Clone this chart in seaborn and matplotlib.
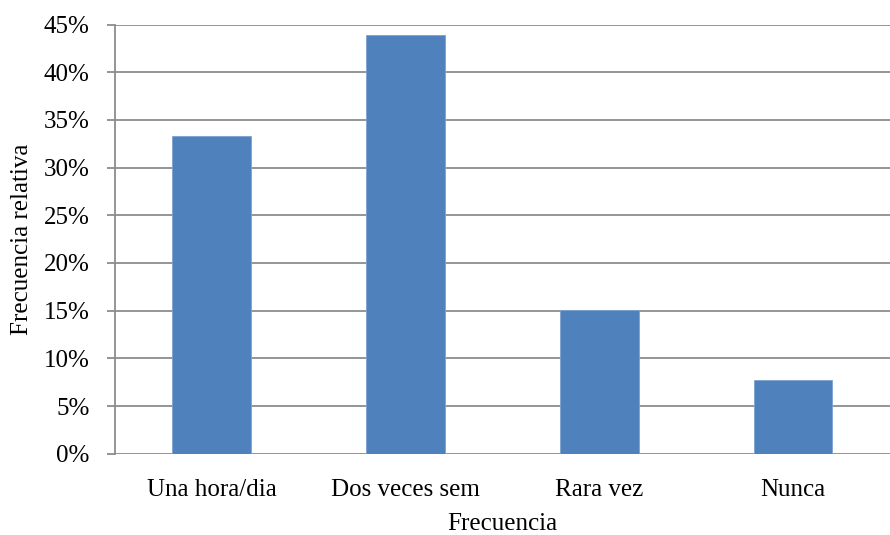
import matplotlib
matplotlib.use("Agg")
import matplotlib.pyplot as plt
import seaborn as sns
import pandas as pd
from matplotlib.ticker import PercentFormatter

categories = ["Una hora/dia", "Dos veces sem", "Rara vez", "Nunca"]
values = [33.3, 43.9, 15.1, 7.7]
yticks = [0, 5, 10, 15, 20, 25, 30, 35, 40, 45]

sns.set_theme(style="white")
plt.rcParams["font.family"] = ["Liberation Serif", "DejaVu Serif"]

df = pd.DataFrame({"Frecuencia": categories, "valor": values})

fig = plt.figure(figsize=(8.9, 5.35), dpi=100)
ax = fig.add_axes([0.129, 0.152, 0.871, 0.802])

grid_c = "#8c8c8c"
fs = 18
ax.set_axisbelow(True)
for t in yticks:
    ax.axhline(t, color=grid_c, lw=1.3, zorder=0)

sns.barplot(data=df, x="Frecuencia", y="valor", color="#4F81BD", width=0.405,
            saturation=1, ax=ax, zorder=2, edgecolor="#7da3d1", linewidth=0.6)

ax.set_ylim(0, 45)
ax.set_xlim(-0.5, 3.5)
ax.set_yticks(yticks)
ax.yaxis.set_major_formatter(PercentFormatter(decimals=0))
for s in ["top", "right", "bottom"]:
    ax.spines[s].set_visible(False)
ax.spines["left"].set_color(grid_c)
ax.spines["left"].set_linewidth(1.3)
ax.tick_params(axis="y", direction="out", length=6, width=1.3, color=grid_c,
               labelsize=fs, labelcolor="black", pad=12, left=True)
ax.tick_params(axis="x", length=0, labelsize=fs, labelcolor="black", pad=18)
ax.set_xlabel("Frecuencia", fontsize=fs, color="black", labelpad=9)
ax.set_ylabel("Frecuencia relativa", fontsize=fs, color="black", labelpad=8)

fig.savefig("out.png", dpi=100)
